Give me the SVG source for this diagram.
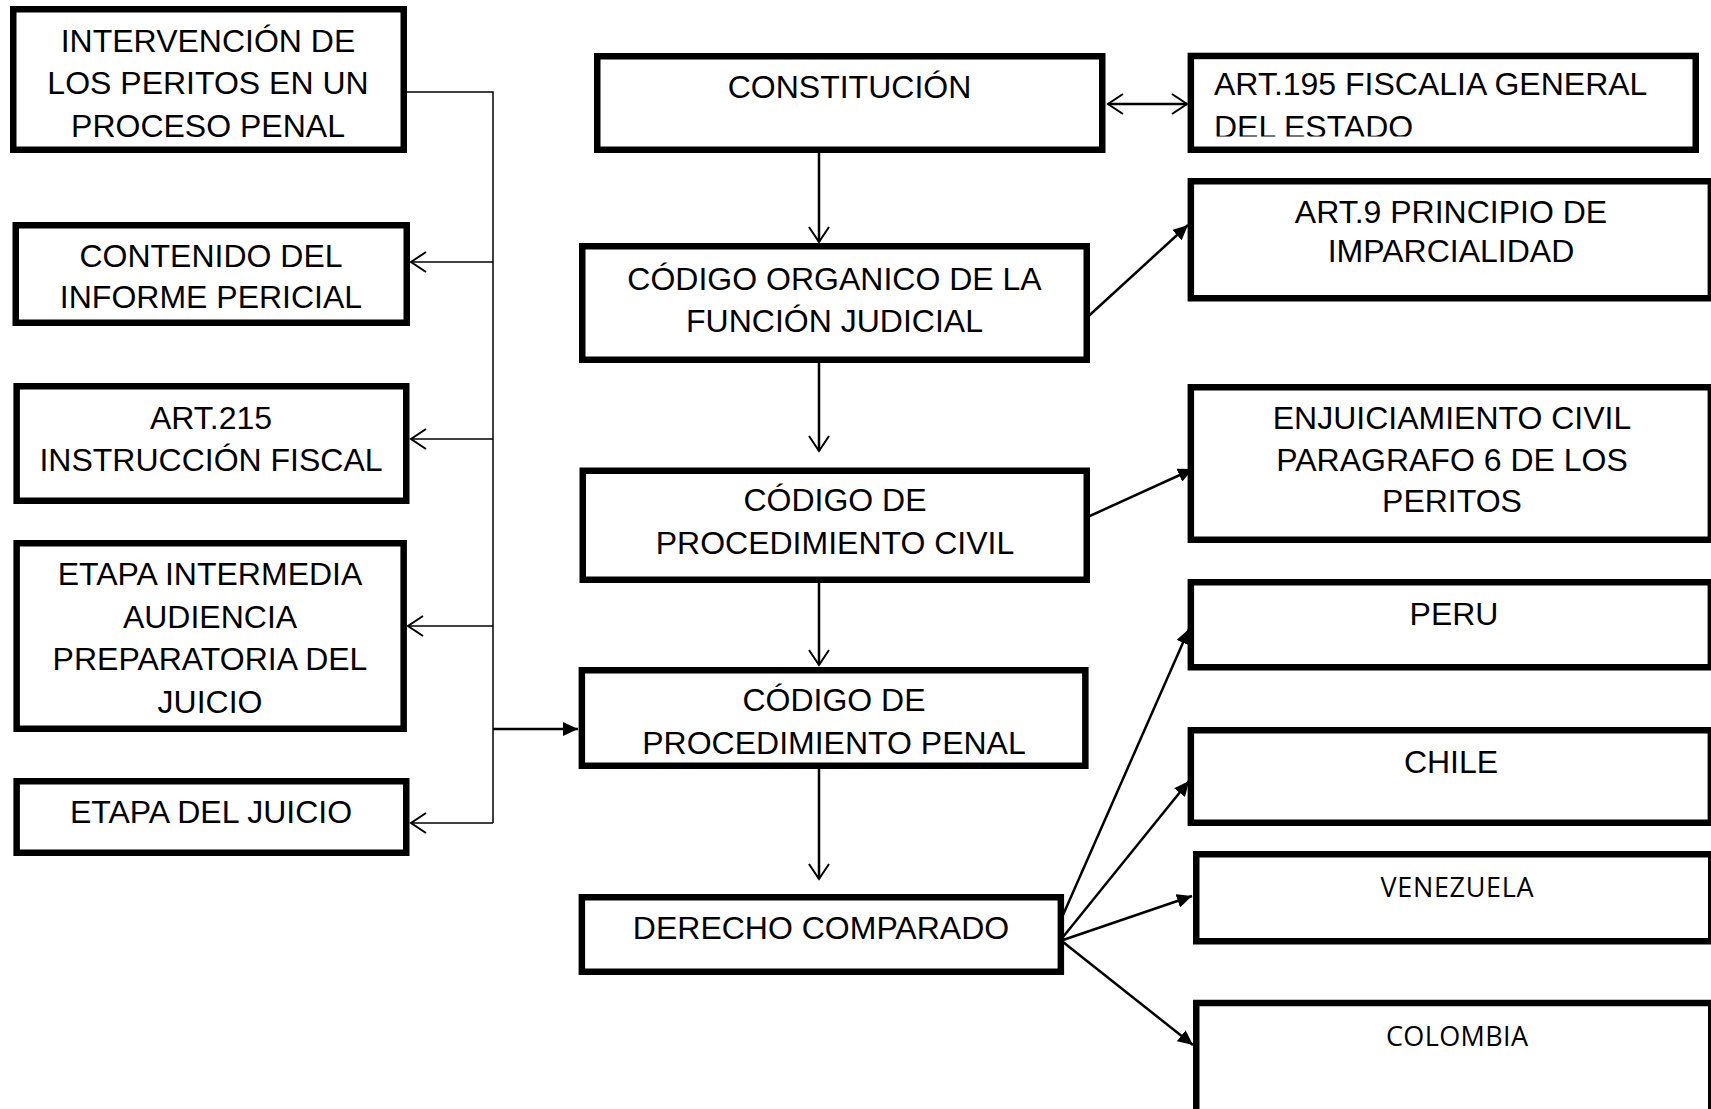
<svg xmlns="http://www.w3.org/2000/svg" width="1711" height="1109" viewBox="0 0 1711 1109">
<style>
.box{fill:#fff;stroke:#000;stroke-width:6.5}
.t{font-family:"Liberation Sans",Arial,sans-serif;font-size:32px;fill:#000;text-anchor:middle}
.ts{font-family:"Open Sans","Noto Sans",sans-serif;font-size:27px;fill:#000;text-anchor:middle}
.thin{fill:none;stroke:#000;stroke-width:1.5}
.med{fill:none;stroke:#000;stroke-width:2.5}
</style>
<defs>
<marker id="open" markerUnits="userSpaceOnUse" markerWidth="22" markerHeight="24" refX="16" refY="11" orient="auto-start-reverse">
<path d="M1,1 L16,11 L1,21" fill="none" stroke="#000" stroke-width="2"/>
</marker>
<marker id="fill" markerUnits="userSpaceOnUse" markerWidth="16" markerHeight="14" refX="15" refY="7" orient="auto">
<path d="M0,0 L15,7 L0,14 z" fill="#000"/>
</marker>
<clipPath id="clip195"><rect x="1194" y="58" width="500" height="78.5"/></clipPath>
</defs>
<rect width="1711" height="1109" fill="#fff"/>

<g id="connectors">
<path class="thin" d="M407,92 H493 V823"/>
<path class="thin" d="M493,262 H411" marker-end="url(#open)"/>
<path class="thin" d="M493,439 H411" marker-end="url(#open)"/>
<path class="thin" d="M493,626 H408" marker-end="url(#open)"/>
<path class="thin" d="M493,823 H411" marker-end="url(#open)"/>
<path class="med" d="M493,729 H578" marker-end="url(#fill)"/>
<path class="med" d="M819,153 V242" marker-end="url(#open)"/>
<path class="med" d="M819,363 V451" marker-end="url(#open)"/>
<path class="med" d="M819,583 V665" marker-end="url(#open)"/>
<path class="med" d="M819,769 V879" marker-end="url(#open)"/>
<path class="med" d="M1108,104 H1187" marker-start="url(#open)" marker-end="url(#open)"/>
<path class="med" d="M1081,323 L1188,225" marker-end="url(#fill)"/>
<path class="med" d="M1081,520 L1193,469" marker-end="url(#fill)"/>
<path class="med" d="M1063,915 L1189,629" marker-end="url(#fill)"/>
<path class="med" d="M1063,937 L1189,781" marker-end="url(#fill)"/>
<path class="med" d="M1063,940 L1192,896" marker-end="url(#fill)"/>
<path class="med" d="M1063,942 L1193,1045" marker-end="url(#fill)"/>
</g>

<g id="n-intervencion">
<rect class="box" x="13.25" y="9.25" width="390.5" height="140.5"/>
<text class="t" x="208" y="52">INTERVENCIÓN DE</text>
<text class="t" x="208" y="94">LOS PERITOS EN UN</text>
<text class="t" x="208" y="137">PROCESO PENAL</text>
</g>
<g id="n-contenido">
<rect class="box" x="15.75" y="225.25" width="391" height="97.5"/>
<text class="t" x="211" y="267">CONTENIDO DEL</text>
<text class="t" x="211" y="308">INFORME PERICIAL</text>
</g>
<g id="n-art215">
<rect class="box" x="16.65" y="386.25" width="389.6" height="114.5"/>
<text class="t" x="211" y="429">ART.215</text>
<text class="t" x="211" y="471">INSTRUCCIÓN FISCAL</text>
</g>
<g id="n-intermedia">
<rect class="box" x="16.65" y="543.25" width="387" height="185.5"/>
<text class="t" x="210" y="585">ETAPA INTERMEDIA</text>
<text class="t" x="210" y="628">AUDIENCIA</text>
<text class="t" x="210" y="670">PREPARATORIA DEL</text>
<text class="t" x="210" y="713">JUICIO</text>
</g>
<g id="n-juicio">
<rect class="box" x="16.65" y="781.25" width="389.6" height="71.5"/>
<text class="t" x="211" y="823">ETAPA DEL JUICIO</text>
</g>

<g id="n-constitucion">
<rect class="box" x="597.25" y="56.25" width="505" height="93.5"/>
<text class="t" x="849.5" y="98">CONSTITUCIÓN</text>
</g>
<g id="n-organico">
<rect class="box" x="582.25" y="246.25" width="504.5" height="113.5"/>
<text class="t" x="834.5" y="290">CÓDIGO ORGANICO DE LA</text>
<text class="t" x="834.5" y="332">FUNCIÓN JUDICIAL</text>
</g>
<g id="n-civil">
<rect class="box" x="582.75" y="470.75" width="504" height="109"/>
<text class="t" x="835" y="511">CÓDIGO DE</text>
<text class="t" x="835" y="554">PROCEDIMIENTO CIVIL</text>
</g>
<g id="n-penal">
<rect class="box" x="581.85" y="670.25" width="503.5" height="95.5"/>
<text class="t" x="834" y="711">CÓDIGO DE</text>
<text class="t" x="834" y="754">PROCEDIMIENTO PENAL</text>
</g>
<g id="n-derecho">
<rect class="box" x="581.85" y="897.25" width="479" height="74.5"/>
<text class="t" x="821" y="939">DERECHO COMPARADO</text>
</g>

<g id="n-art195">
<rect class="box" x="1190.85" y="55.95" width="504.9" height="93.8"/>
<g clip-path="url(#clip195)">
<text class="t" x="1214" y="95" style="text-anchor:start">ART.195 FISCALIA GENERAL</text>
<text class="t" x="1214" y="138" style="text-anchor:start">DEL ESTADO</text>
</g>
</g>
<g id="n-art9">
<rect class="box" x="1190.85" y="181.25" width="520" height="117"/>
<text class="t" x="1451" y="223">ART.9 PRINCIPIO DE</text>
<text class="t" x="1451" y="262">IMPARCIALIDAD</text>
</g>
<g id="n-enjuiciamiento">
<rect class="box" x="1190.85" y="387.25" width="520" height="152.5"/>
<text class="t" x="1452" y="429">ENJUICIAMIENTO CIVIL</text>
<text class="t" x="1452" y="471">PARAGRAFO 6 DE LOS</text>
<text class="t" x="1452" y="512">PERITOS</text>
</g>
<g id="n-peru">
<rect class="box" x="1190.85" y="582.25" width="520" height="85"/>
<text class="t" x="1454" y="625">PERU</text>
</g>
<g id="n-chile">
<rect class="box" x="1190.85" y="730.25" width="520" height="92.5"/>
<text class="t" x="1451" y="773">CHILE</text>
</g>
<g id="n-venezuela">
<rect class="box" x="1196.25" y="854.25" width="515" height="87"/>
<text class="ts" x="1457" y="897" textLength="153" lengthAdjust="spacing">VENEZUELA</text>
</g>
<g id="n-colombia">
<rect class="box" x="1196.25" y="1003" width="515" height="130"/>
<text class="ts" x="1457" y="1046" textLength="142" lengthAdjust="spacing">COLOMBIA</text>
</g>
</svg>
